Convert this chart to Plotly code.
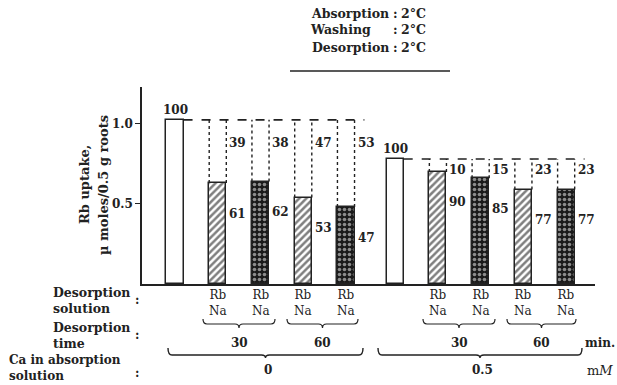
import plotly.graph_objects as go

# ---------------- data ----------------
ca_levels = ["0", "0.5"]                 # Ca in absorption solution (mM)
desorption_times = ["30", "60"]          # min
desorption_solution = "Rb<br>Na"
uptake_ca0 = [1.025, 0.63, 0.64, 0.54, 0.48]   # control, Rb30, Na30, Rb60, Na60
uptake_ca05 = [0.78, 0.70, 0.66, 0.59, 0.59]
retained_ca0 = [100, 61, 62, 53, 47]
released_ca0 = [39, 38, 47, 53]
retained_ca05 = [100, 90, 85, 77, 77]
released_ca05 = [10, 15, 23, 23]
bar_patterns = ["", "/", ".", "/", "."]
y_ticks = [0.5, 1.0]
y_ticktext = ["0.5", "1.0"]
conditions = [("Absorption", "2°C"), ("Washing", "2°C"), ("Desorption", "2°C")]
row_titles = ["Desorption<br>solution", "Desorption<br>time", "Ca in absorption<br>solution"]

# ---------------- layout helpers ----------------
W, H = 617, 385
L, R, T, B = 142, 595, 87, 284
GROUP_OFFSET = 5.15
BAR_W = 0.4
FONT = "DejaVu Serif, Liberation Serif, serif"
INK = "#222222"

def px(x):
    return (x - L) / (R - L)

def py(y):
    return (B - y) / (B - T)

uptakes = [uptake_ca0, uptake_ca05]
retained = [retained_ca0, retained_ca05]
released = [released_ca0, released_ca05]
positions = [[g * GROUP_OFFSET + i for i in range(5)] for g in range(2)]

pat_fg = {"": INK, "/": "#000000", ".": "white"}
pat_bg = {"": "white", "/": "white", ".": "#1a1a1a"}
pat_sol = {"": 0, "/": 0.5, ".": 0.4}

fig = go.Figure()
fig.add_trace(go.Bar(
    x=positions[0] + positions[1],
    y=uptake_ca0 + uptake_ca05,
    width=BAR_W,
    marker=dict(
        color="white",
        line=dict(color=INK, width=1.5),
        pattern=dict(shape=bar_patterns * 2,
                     fgcolor=[pat_fg[s] for s in bar_patterns] * 2,
                     bgcolor=[pat_bg[s] for s in bar_patterns] * 2,
                     size=5,
                     solidity=[pat_sol[s] for s in bar_patterns] * 2),
    ),
    showlegend=False,
    hoverinfo="skip",
))

shapes = []
annotations = []

def text(x, y, s, size=12, xanchor="center", yanchor="middle", xref="paper", yref="paper",
         bold=True, align="center", **kw):
    annotations.append(dict(
        x=x, y=y, xref=xref, yref=yref, text=s, showarrow=False,
        xanchor=xanchor, yanchor=yanchor, align=align, borderpad=0,
        font=dict(family=FONT, size=size, color=INK, weight="bold" if bold else "normal"), **kw))

released_offset = [0.145, 0.07]
for g in range(2):
    pos = positions[g]
    vals = uptakes[g]
    ctrl = vals[0]
    # dashed reference line at control level
    shapes.append(dict(type="line", xref="x", yref="y", x0=pos[0] + BAR_W / 2,
                       x1=pos[-1] + 0.43, y0=ctrl, y1=ctrl,
                       line=dict(color=INK, width=1.6, dash="dash")))
    text(pos[0], ctrl, str(retained[g][0]), yanchor="bottom", xref="x", yref="y", yshift=2)
    for i in range(1, 5):
        for side in (-1, 1):
            xx = pos[i] + side * BAR_W / 2
            shapes.append(dict(type="line", xref="x", yref="y", x0=xx, x1=xx,
                               y0=vals[i], y1=ctrl,
                               line=dict(color=INK, width=1.4, dash="dot")))
        text(pos[i] + BAR_W / 2, ctrl - released_offset[g], str(released[g][i - 1]),
             xanchor="left", xref="x", yref="y", xshift=2)
        text(pos[i] + BAR_W / 2, vals[i] - 0.19, str(retained[g][i]),
             xanchor="left", xref="x", yref="y", xshift=2)
        # desorption solution labels
        text(pos[i], py(303), desorption_solution, size=12, xref="x", bold=False)

# ---------------- braces ----------------
def brace(x0, x1, y_end, y_line, y_tip, width=1.2):
    xm = (x0 + x1) / 2
    d = 4
    a, b, c = py(y_end), py(y_line), py(y_tip)
    p = lambda v: px(v)
    path = (f"M {p(x0)},{a} Q {p(x0)},{b} {p(x0 + d)},{b} L {p(xm - d)},{b} "
            f"Q {p(xm)},{b} {p(xm)},{c} Q {p(xm)},{b} {p(xm + d)},{b} "
            f"L {p(x1 - d)},{b} Q {p(x1)},{b} {p(x1)},{a}")
    shapes.append(dict(type="path", xref="paper", yref="paper", path=path,
                       line=dict(color=INK, width=width)))

small_braces = [(203, 275), (287, 358), (423, 495), (507, 576)]
for k, (x0, x1) in enumerate(small_braces):
    brace(x0, x1, 319, 324, 328)
    text(px((x0 + x1) / 2), py(343), desorption_times[k % 2], size=12)

big_braces = [(168, 363), (378, 582)]
for k, (x0, x1) in enumerate(big_braces):
    brace(x0, x1, 348, 355, 358, width=1.4)
    text(px((x0 + x1) / 2 + 2), py(370), ca_levels[k], size=12)

text(px(584), py(343), "min.", size=12, xanchor="left")
text(px(586), py(370), "m<i>M</i>", size=13, xanchor="left", bold=False)

# ---------------- row labels ----------------
row_pos = [(52, 300), (52, 335), (8, 368)]
row_size = [12.5, 12.5, 12]
colon_y = [300, 335, 373]
for s, (xx, yy), sz, cy in zip(row_titles, row_pos, row_size, colon_y):
    text(px(xx), py(yy), s, size=sz, xanchor="left", align="left")
    text(px(137), py(cy), ":", size=12)

# ---------------- conditions block ----------------
cond_y = [13, 30, 48]
for (name, val), yy in zip(conditions, cond_y):
    if name == "Washing":
        text(px(309), py(yy), name, size=12.5, xanchor="left")
    else:
        text(px(390), py(yy), name, size=12.5, xanchor="right")
    text(px(395), py(yy), ":", size=12.5)
    text(px(400), py(yy), val, size=12.5, xanchor="left")
shapes.append(dict(type="line", xref="paper", yref="paper", x0=px(290), x1=px(450),
                   y0=py(71), y1=py(71), line=dict(color=INK, width=1.6)))

# ---------------- y axis title ----------------
text(px(84), py(185), "Rb uptake,", size=13, textangle=-90)
text(px(103), py(185), "µ moles/0.5 g roots", size=13, textangle=-90)

fig.update_layout(
    width=W, height=H,
    margin=dict(l=L, r=W - R, t=T, b=H - B, pad=0),
    paper_bgcolor="white", plot_bgcolor="white",
    shapes=shapes, annotations=annotations,
    bargap=0,
    xaxis=dict(range=[-0.772, 9.825], showline=True, linecolor=INK, linewidth=1.5,
               showticklabels=False, ticks="", showgrid=False, zeroline=False,
               fixedrange=True),
    yaxis=dict(range=[0, 1.23], tickvals=y_ticks, ticktext=y_ticktext, ticks="outside",
               ticklen=5, tickwidth=1.4, tickcolor=INK, showline=True, linecolor=INK,
               linewidth=1.5, showgrid=False, zeroline=False,
               tickfont=dict(family=FONT, size=12, color=INK, weight="bold"),
               fixedrange=True),
)

fig.write_html("out.html", config=dict(displayModeBar=False))
